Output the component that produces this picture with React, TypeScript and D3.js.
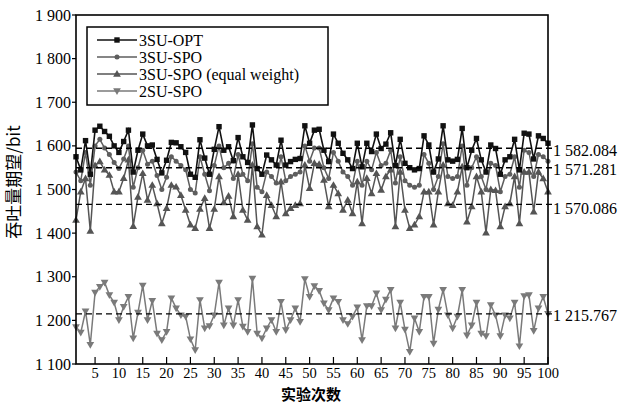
import React from "react";
import * as d3 from "d3";

const runs: number[] = d3.range(1, 101);

const opt: number[] = [
  1575, 1545, 1612, 1535, 1636, 1645, 1633, 1622, 1600, 1585,
  1610, 1636, 1540, 1590, 1627, 1600, 1602, 1569, 1538, 1567,
  1608, 1607, 1598, 1585, 1535, 1528, 1614, 1572, 1535, 1592,
  1644, 1590, 1598, 1566, 1619, 1575, 1562, 1648, 1548, 1535,
  1579, 1568, 1556, 1613, 1556, 1564, 1569, 1571, 1646, 1606,
  1636, 1638, 1590, 1564, 1627, 1606, 1583, 1568, 1548, 1606,
  1552, 1606, 1587, 1627, 1594, 1604, 1630, 1555, 1615, 1560,
  1550, 1545, 1548, 1623, 1602, 1540, 1570, 1646, 1568, 1565,
  1569, 1640, 1550, 1590, 1617, 1568, 1540, 1602, 1594, 1535,
  1568, 1575, 1615, 1545, 1629, 1627, 1570, 1623, 1617, 1606,
];

const spo: number[] = [
  1540, 1520, 1585, 1510, 1600, 1615, 1595, 1580, 1562, 1548,
  1570, 1600, 1505, 1550, 1590, 1558, 1565, 1532, 1500, 1528,
  1575, 1565, 1555, 1545, 1500, 1492, 1575, 1535, 1497, 1555,
  1600, 1550, 1560, 1525, 1580, 1535, 1520, 1605, 1505, 1495,
  1540, 1530, 1515, 1575, 1520, 1530, 1535, 1540, 1600, 1565,
  1595, 1595, 1550, 1525, 1585, 1565, 1540, 1530, 1510, 1565,
  1510, 1565, 1545, 1585, 1555, 1560, 1590, 1515, 1575, 1520,
  1510, 1505, 1510, 1580, 1560, 1500, 1530, 1605, 1530, 1525,
  1530, 1600, 1510, 1550, 1575, 1530, 1500, 1560, 1555, 1495,
  1530, 1535, 1575, 1505, 1590, 1585, 1530, 1580, 1575, 1565,
];

const equalWeight: number[] = [
  1430, 1495, 1525, 1405, 1555, 1564, 1545, 1533, 1495, 1495,
  1526, 1568, 1416, 1483, 1537, 1476, 1510, 1468, 1422, 1457,
  1510, 1506, 1487, 1453, 1419, 1411, 1455, 1480, 1411, 1455,
  1530, 1470, 1485, 1438, 1535, 1453, 1430, 1556, 1415, 1396,
  1487, 1464, 1438, 1518, 1445, 1457, 1464, 1468, 1556, 1503,
  1560, 1558, 1522, 1461, 1510, 1491, 1453, 1476, 1445, 1518,
  1422, 1526, 1491, 1537, 1499, 1530, 1545, 1415, 1540, 1453,
  1411, 1419, 1438, 1495, 1495, 1419, 1495, 1556, 1468, 1464,
  1495, 1552, 1426, 1461, 1530, 1495, 1401, 1500, 1498, 1415,
  1461, 1468, 1530, 1422, 1540, 1540, 1449, 1540, 1525, 1495,
];

const su2: number[] = [
  1185, 1172, 1221, 1144, 1264, 1277, 1287, 1258, 1241, 1201,
  1231, 1254, 1159, 1218, 1280, 1201, 1245, 1170, 1155, 1174,
  1251, 1228, 1212, 1209, 1157, 1132, 1247, 1182, 1187, 1212,
  1287, 1189, 1228, 1189, 1247, 1186, 1174, 1296, 1170, 1159,
  1182, 1201, 1174, 1243, 1178, 1201, 1228, 1197, 1295, 1254,
  1279, 1268, 1239, 1224, 1251, 1243, 1201, 1192, 1209, 1230,
  1155, 1233, 1233, 1262, 1224, 1248, 1270, 1182, 1241, 1179,
  1128, 1205, 1174, 1254, 1254, 1147, 1225, 1270, 1212, 1182,
  1209, 1270, 1166, 1189, 1241, 1170, 1164, 1235, 1212, 1164,
  1212, 1205, 1241, 1141, 1256, 1258, 1176, 1228, 1254, 1215,
];

const seriesNames: string[] = ["3SU-OPT", "3SU-SPO", "3SU-SPO (equal weight)", "2SU-SPO"];
const meanValues: number[] = [1594.4, 1550, 1466, 1215];
const meanLabels: string[] = ["1 582.084", "1 571.281", "1 570.086", "1 215.767"];
const meanLabelValues: number[] = [1590, 1547, 1457, 1212];
const yTicks: number[] = [1100, 1200, 1300, 1400, 1500, 1600, 1700, 1800, 1900];
const xTicks: number[] = d3.range(5, 101, 5);

const W = 630;
const H = 406;
const L = 76, R = 548, T = 15, B = 364;
const serif = "'Liberation Serif', 'Times New Roman', serif";
const cjk = "'Noto Sans CJK SC', sans-serif";

type Marker = "square" | "circle" | "triUp" | "triDown";

function MarkerShape({ kind, x, y, color }: { kind: Marker; x: number; y: number; color: string }) {
  if (kind === "square") return <rect x={x - 2.7} y={y - 2.7} width={5.4} height={5.4} fill={color} />;
  if (kind === "circle") return <circle cx={x} cy={y} r={2.5} fill={color} />;
  const sym = d3.symbol().type(d3.symbolTriangle).size(26)();
  return (
    <path d={sym || ""} fill={color} transform={`translate(${x},${kind === "triDown" ? y - 0.5 : y + 0.5}) rotate(${kind === "triDown" ? 180 : 0})`} />
  );
}

export default function App() {
  const x = d3.scaleLinear().domain([1, 100]).range([L, R]);
  const y = d3.scaleLinear().domain([1100, 1900]).range([B, T]);
  const line = d3.line<number>().x((_, i) => x(runs[i])).y((d) => y(d));

  const series = [
    { name: seriesNames[3], data: su2, color: "#7a7a7a", marker: "triDown" as Marker, w: 1.5 },
    { name: seriesNames[2], data: equalWeight, color: "#555555", marker: "triUp" as Marker, w: 1.5 },
    { name: seriesNames[1], data: spo, color: "#5e5e5e", marker: "circle" as Marker, w: 1.5 },
    { name: seriesNames[0], data: opt, color: "#111111", marker: "square" as Marker, w: 1.6 },
  ];

  const legend = [
    { name: seriesNames[0], color: "#111111", marker: "square" as Marker },
    { name: seriesNames[1], color: "#5e5e5e", marker: "circle" as Marker },
    { name: seriesNames[2], color: "#555555", marker: "triUp" as Marker },
    { name: seriesNames[3], color: "#7a7a7a", marker: "triDown" as Marker },
  ];

  return (
    <svg width={W} height={H} style={{ position: "absolute", left: 0, top: 0, background: "#fff" }}>
      <rect width={W} height={H} fill="#fff" />
      {series.map((s) => (
        <g key={s.name}>
          <path d={line(s.data) || ""} fill="none" stroke={s.color} strokeWidth={s.w} />
          {s.data.map((v, i) => (
            <MarkerShape key={i} kind={s.marker} x={x(runs[i])} y={y(v)} color={s.color} />
          ))}
        </g>
      ))}
      {meanValues.map((m, i) => (
        <line key={i} x1={L} x2={R + 4} y1={y(m)} y2={y(m)} stroke="#000" strokeWidth={1.4} strokeDasharray="6,4" />
      ))}
      {meanLabels.map((t, i) => (
        <text key={t} x={553} y={y(meanLabelValues[i])} dy="0.35em" fontFamily={serif} fontSize={16} fill="#000">
          {t}
        </text>
      ))}
      <rect x={L} y={T} width={R - L} height={B - T} fill="none" stroke="#000" strokeWidth={1.6} />
      {yTicks.map((t) => (
        <g key={t}>
          <line x1={L - 4} x2={L} y1={y(t)} y2={y(t)} stroke="#000" strokeWidth={1.2} />
          <text x={71} y={y(t)} dy="0.35em" textAnchor="end" fontFamily={serif} fontSize={16} fill="#000">
            {`1 ${String(t).slice(1)}`}
          </text>
        </g>
      ))}
      {xTicks.map((t) => (
        <g key={t}>
          <line x1={x(t)} x2={x(t)} y1={B} y2={B - 7} stroke="#000" strokeWidth={1.2} />
          <text x={x(t)} y={378} textAnchor="middle" fontFamily={serif} fontSize={14.5} fill="#000">
            {t}
          </text>
        </g>
      ))}
      <text x={311} y={400} textAnchor="middle" fontFamily={cjk} fontWeight={700} fontSize={15} fill="#000">
        实验次数
      </text>
      <text transform="translate(20,182) rotate(-90)" textAnchor="middle" fontFamily={cjk} fontSize={17} fill="#000">
        吞吐量期望/bit
      </text>
      <rect x={87} y={27} width={241} height={78} fill="#fff" stroke="#000" strokeWidth={1.5} />
      {legend.map((l, i) => {
        const ly = 40 + i * 17;
        return (
          <g key={l.name}>
            <line x1={97} x2={137} y1={ly} y2={ly} stroke={l.color} strokeWidth={1.5} />
            <MarkerShape kind={l.marker} x={117} y={ly} color={l.color} />
            <text x={139} y={ly} dy="0.35em" fontFamily={serif} fontSize={16} fill="#000">
              {l.name}
            </text>
          </g>
        );
      })}
    </svg>
  );
}
